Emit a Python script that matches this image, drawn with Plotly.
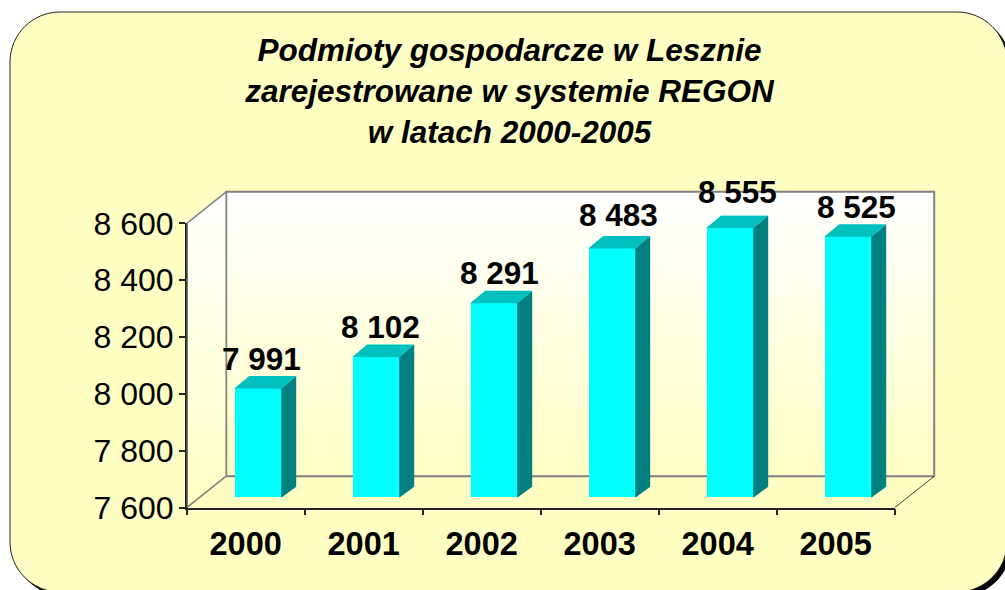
import plotly.graph_objects as go

years = ["2000", "2001", "2002", "2003", "2004", "2005"]
values = [7991, 8102, 8291, 8483, 8555, 8525]
labels = ["7 991", "8 102", "8 291", "8 483", "8 555", "8 525"]
label_nudge = [0, 0, 0, 4, 6, 0]
y_ticks = [7600, 7800, 8000, 8200, 8400, 8600]
y_tick_text = ["7 600", "7 800", "8 000", "8 200", "8 400", "8 600"]

W, H = 1005, 590
X0, X1, YB, YT = 186.7, 894.7, 507.7, 223.3   # front plot box in px
YMIN, YMAX = 7600, 8600
PX_X = (X1 - X0) / 6
PX_Y = (YB - YT) / (YMAX - YMIN)
WALL_PX_X, WALL_PX_Y = 39.5, 31.5
WALL_DX, WALL_DY = WALL_PX_X / PX_X, WALL_PX_Y / PX_Y
BAR_SHIFT_X, BAR_SHIFT_Y = 12.0, 8.0
BAR_BASE = YMIN + 2.0 / PX_Y
SIDE_DX, SIDE_DY = 15.0 / PX_X, 12.5 / PX_Y
BAR_W = 47.0 / PX_X
BG = "#FFFFC4"
GRAY = "#808080"
DARK = "#222222"
FONT = "Liberation Sans, Arial, sans-serif"

x = list(range(6))
xl, xr = -0.5, 5.5


def rounded(l, t, r, b, c):
    k = c * 0.4477
    pts = [("M", l + c, t), ("L", r - c, t), ("C", r - k, t, r, t + k, r, t + c), ("L", r, b - c),
           ("C", r, b - k, r - k, b, r - c, b), ("L", l + c, b), ("C", l + k, b, l, b - k, l, b - c),
           ("L", l, t + c), ("C", l, t + k, l + k, t, l + c, t)]
    out = ""
    for p in pts:
        out += p[0]
        coords = p[1:]
        out += " ".join(f"{(coords[i] / W) if i % 2 == 0 else (1 - coords[i] / H):.5f}" for i in range(len(coords))) + " "
    return out + "Z"


fig = go.Figure()
grad = dict(type="vertical", colorscale=[[0, BG], [1, "#FFFFFF"]])
wall = dict(xaxis="x2", yaxis="y2", hoverinfo="skip", showlegend=False)

# keeps the primary (visible) axis pair alive
fig.add_trace(go.Scatter(x=x, y=values, mode="markers", marker=dict(opacity=0, size=1), hoverinfo="skip", showlegend=False))

# back wall
fig.add_trace(go.Scatter(
    x=[xl + WALL_DX, xr + WALL_DX, xr + WALL_DX, xl + WALL_DX, xl + WALL_DX],
    y=[YMIN + WALL_DY, YMIN + WALL_DY, YMAX + WALL_DY, YMAX + WALL_DY, YMIN + WALL_DY],
    mode="lines", line=dict(color=GRAY, width=2), fill="toself", fillgradient=grad, **wall))
# left wall
fig.add_trace(go.Scatter(
    x=[xl, xl + WALL_DX, xl + WALL_DX, xl, xl],
    y=[YMIN, YMIN + WALL_DY, YMAX + WALL_DY, YMAX, YMIN],
    mode="lines", line=dict(color=GRAY, width=1.5), fill="toself", fillgradient=grad, **wall))
# floor right edge
fig.add_trace(go.Scatter(x=[xr, xr + WALL_DX], y=[YMIN, YMIN + WALL_DY], mode="lines",
                         line=dict(color="#404040", width=1), **wall))
# front left edge, re-stroked over the wall
fig.add_trace(go.Scatter(x=[xl, xl], y=[YMIN, YMAX], mode="lines", line=dict(color=DARK, width=1.5), **wall))

# bars (front faces on a shifted axis pair)
fig.add_trace(go.Bar(x=x, y=[v - BAR_BASE for v in values], base=BAR_BASE, width=BAR_W, marker=dict(color="#00FFFF", line=dict(width=0)),
                     xaxis="x3", yaxis="y3", hoverinfo="skip", showlegend=False))
side_x, side_y, top_x, top_y = [], [], [], []
for i, v in zip(x, values):
    a, b = i - BAR_W / 2, i + BAR_W / 2
    side_x += [b, b + SIDE_DX, b + SIDE_DX, b, b, None]
    side_y += [BAR_BASE, BAR_BASE + 11.0 / PX_Y, v + SIDE_DY, v, BAR_BASE, None]
    top_x += [a, a + SIDE_DX, b + SIDE_DX, b, a, None]
    top_y += [v, v + SIDE_DY, v + SIDE_DY, v, v, None]
fig.add_trace(go.Scatter(x=side_x, y=side_y, mode="lines", line=dict(width=0), fill="toself", fillcolor="#008080",
                         xaxis="x3", yaxis="y3", hoverinfo="skip", showlegend=False))
fig.add_trace(go.Scatter(x=top_x, y=top_y, mode="lines", line=dict(width=0), fill="toself", fillcolor="#00BFBF",
                         xaxis="x3", yaxis="y3", hoverinfo="skip", showlegend=False))

annotations = [dict(x=i, y=v, xref="x3", yref="y3", text=f"<b>{t}</b>", showarrow=False,
                    xshift=3.5 + i * 1.1, yshift=10 + n, yanchor="bottom",
                    font=dict(family=FONT, size=31.5, color="black"))
               for i, v, t, n in zip(x, values, labels, label_nudge)]

fig.update_layout(
    width=W, height=H, margin=dict(l=0, r=0, t=0, b=0, pad=0, autoexpand=False), paper_bgcolor="white", plot_bgcolor="rgba(0,0,0,0)",
    showlegend=False, bargap=0,
    title=dict(text="<b><i>Podmioty gospodarcze w Lesznie<br>zarejestrowane w systemie REGON<br>w latach 2000-2005</i></b>",
               x=509.5 / W, xanchor="center", y=1 - 61 / H, yanchor="top",
               font=dict(family=FONT, size=31.5, color="black")),
    xaxis=dict(domain=[X0 / W, X1 / W], range=[xl, xr], tickmode="array", tickvals=x, ticktext=[f"<b>{y}</b>" for y in years],
               ticks="", showgrid=False, zeroline=False, showline=True, linecolor=DARK, linewidth=1.5,
               tickfont=dict(family=FONT, size=32.5, color="black"), ticklabelstandoff=7,
               minor=dict(tickmode="array", tickvals=[k - 0.5 for k in range(7)], ticks="outside", ticklen=6,
                          tickcolor=DARK, tickwidth=1.5, showgrid=False),
               anchor="y"),
    yaxis=dict(domain=[1 - YB / H, 1 - YT / H], range=[YMIN, YMAX], tickmode="array", tickvals=y_ticks, ticktext=y_tick_text,
               ticks="outside", ticklen=6, tickcolor=DARK, tickwidth=1.5, showgrid=False, zeroline=False,
               showline=True, linecolor=DARK, linewidth=1.5, ticklabelstandoff=-1,
               tickfont=dict(family=FONT, size=32, color="black"), anchor="x"),
    xaxis2=dict(domain=[X0 / W, (X1 + WALL_PX_X + 2) / W], range=[xl, xr + WALL_DX + 2 / PX_X], visible=False, anchor="y2"),
    yaxis2=dict(domain=[1 - YB / H, 1 - (YT - WALL_PX_Y - 2) / H], range=[YMIN, YMAX + WALL_DY + 2 / PX_Y], visible=False, anchor="x2"),
    xaxis3=dict(domain=[(X0 + BAR_SHIFT_X) / W, (X1 + BAR_SHIFT_X) / W], range=[xl, xr], visible=False, anchor="y3"),
    yaxis3=dict(domain=[1 - (YB - BAR_SHIFT_Y) / H, 1 - (YT - BAR_SHIFT_Y) / H], range=[YMIN, YMAX], visible=False, anchor="x3"),
    annotations=annotations,
    shapes=[
        dict(type="path", xref="paper", yref="paper", path=rounded(14, 16, 1011, 596, 50), fillcolor="black", line=dict(width=0), layer="below"),
        dict(type="path", xref="paper", yref="paper", path=rounded(10, 12, 1007, 592, 50), fillcolor=BG, line=dict(color=DARK, width=1), layer="below"),
    ],
)
fig.write_html("out.html", config=dict(displayModeBar=False),
               post_script="document.body.style.margin='0';document.body.style.overflow='hidden';")
